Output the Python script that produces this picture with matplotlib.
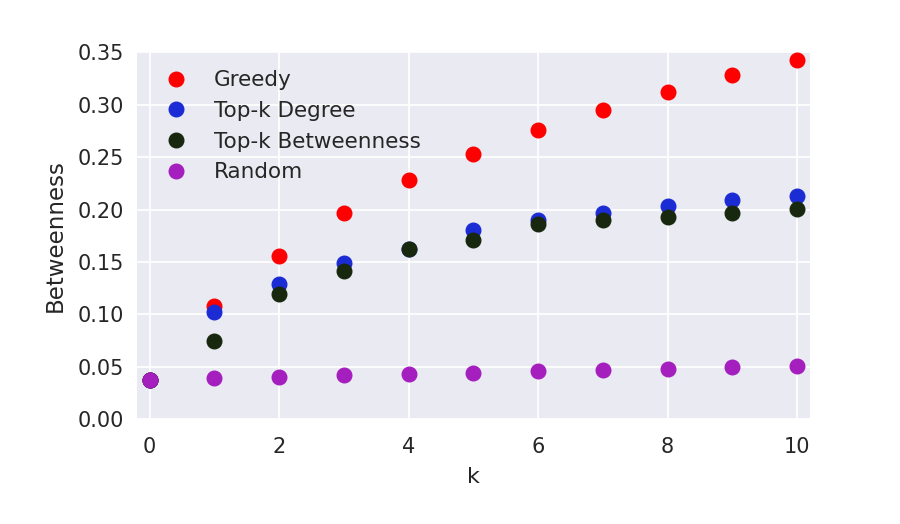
import matplotlib
matplotlib.use("Agg")
import matplotlib.pyplot as plt
import seaborn as sns
import numpy as np

k = [0, 1, 2, 3, 4, 5, 6, 7, 8, 9, 10]
greedy = [0.037, 0.108, 0.156, 0.197, 0.228, 0.253, 0.276, 0.295, 0.312, 0.328, 0.343]
topk_degree = [0.037, 0.102, 0.129, 0.149, 0.162, 0.181, 0.190, 0.197, 0.203, 0.209, 0.213]
topk_betweenness = [0.037, 0.075, 0.119, 0.141, 0.162, 0.171, 0.186, 0.190, 0.193, 0.197, 0.201]
random_sel = [0.037, 0.039, 0.040, 0.042, 0.043, 0.044, 0.046, 0.047, 0.048, 0.050, 0.051]

sns.set_style("darkgrid", {"axes.facecolor": "#EAEAF2", "grid.color": "white"})
plt.rcParams['font.family'] = ['DejaVu Sans']

fig, ax = plt.subplots(figsize=(9, 5.24), dpi=100)
fig.subplots_adjust(left=0.152, right=0.9, top=0.9, bottom=0.2)

ms = 10.5
ax.plot(k, greedy, 'o', color='#ff0000', ms=ms, label='Greedy')
ax.plot(k, topk_degree, 'o', color='#1c2cd4', ms=ms, label='Top-k Degree')
ax.plot(k, topk_betweenness, 'o', color='#18280f', ms=ms, label='Top-k Betweenness')
ax.plot(k, random_sel, 'o', color='#a41fbe', ms=ms, label='Random')

ax.set_xlim(-0.2, 10.2)
ax.set_ylim(0, 0.35)
ax.set_yticks(np.arange(0, 0.351, 0.05))
ax.set_yticklabels(['%.2f' % v for v in np.arange(0, 0.351, 0.05)])
ax.set_xlabel('k', fontsize=16, color='#262626', labelpad=7)
ax.set_ylabel('Betweenness', fontsize=16.5, color='#262626', labelpad=8)
ax.tick_params(labelsize=15, colors='#262626', length=0)
ax.tick_params(axis='x', pad=13)
ax.tick_params(axis='y', pad=9)
ax.grid(True, color='white', linewidth=1.3)
for s in ax.spines.values():
    s.set_visible(False)

ax.legend(loc='upper left', frameon=False, numpoints=1, fontsize=15.5,
          handletextpad=0.75, labelspacing=0.5, borderaxespad=0.42)

fig.savefig('out.png')
